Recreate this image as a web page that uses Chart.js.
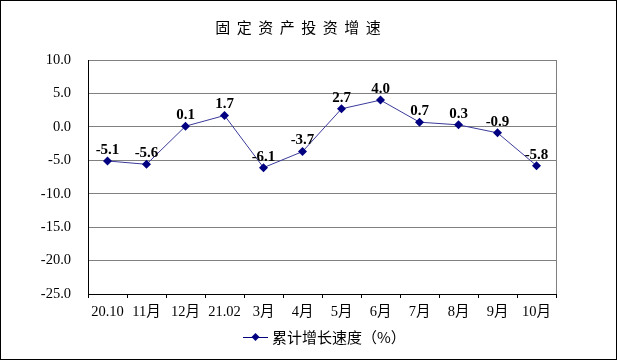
<!DOCTYPE html>
<html>
<head>
<meta charset="utf-8">
<script src="https://cdn.jsdelivr.net/npm/chart.js@4.4.0/dist/chart.umd.min.js"></script>
<style>
  html, body { margin: 0; padding: 0; background: #fff; }
  canvas { display: block; }
</style>
</head>
<body>
<canvas id="chart" width="618" height="361"></canvas>
<script>
// data
const titleText = '固定资产投资增速'
const seriesName = '累计增长速度（%）'
const months = ['20.10', '11月', '12月', '21.02', '3月', '4月', '5月', '6月', '7月', '8月', '9月', '10月']
const growth = [-5.1, -5.6, 0.1, 1.7, -6.1, -3.7, 2.7, 4.0, 0.7, 0.3, -0.9, -5.8]

const SERIF = '"Liberation Serif", "Times New Roman", "Noto Sans CJK SC", serif'
const CJK = '"Noto Sans CJK SC", sans-serif'
const lineColor = '#3a3a9a'
const markColor = '#000080'

// frame, title, value labels and legend
const decorations = {
  id: 'decorations',
  afterDraw(chart) {
    const ctx = chart.ctx
    ctx.save()

    // outer border
    ctx.strokeStyle = '#000'
    ctx.lineWidth = 1
    ctx.strokeRect(0.5, 0.5, 616, 359)

    // title with wide letter spacing
    ctx.fillStyle = '#000'
    ctx.font = '15px ' + CJK
    ctx.textAlign = 'center'
    ctx.textBaseline = 'middle'
    const chars = [...titleText]
    const step = 21.5
    const x0 = 298 - step * (chars.length - 1) / 2
    chars.forEach((c, i) => ctx.fillText(c, x0 + i * step, 27))

    // value labels above points
    const meta = chart.getDatasetMeta(0)
    ctx.font = 'bold 15px ' + SERIF
    ctx.textBaseline = 'middle'
    meta.data.forEach((pt, i) => {
      ctx.fillText(growth[i].toFixed(1), pt.x, pt.y - 11)
    })

    // legend: line + diamond + text
    const ly = 337
    ctx.strokeStyle = markColor
    ctx.beginPath()
    ctx.moveTo(243, ly + 0.5)
    ctx.lineTo(268, ly + 0.5)
    ctx.stroke()
    ctx.fillStyle = markColor
    ctx.beginPath()
    ctx.moveTo(255.5, ly - 4)
    ctx.lineTo(259.5, ly)
    ctx.lineTo(255.5, ly + 4)
    ctx.lineTo(251.5, ly)
    ctx.closePath()
    ctx.fill()
    ctx.fillStyle = '#000'
    ctx.font = '15px ' + CJK
    ctx.textAlign = 'left'
    ctx.fillText(seriesName, 272, ly)

    // right edge of plot area
    const a = chart.chartArea
    ctx.strokeStyle = '#808080'
    ctx.beginPath()
    ctx.moveTo(Math.round(a.right) + 0.5, a.top)
    ctx.lineTo(Math.round(a.right) + 0.5, a.bottom)
    ctx.stroke()

    ctx.restore()
  },
}

new Chart(document.getElementById('chart'), {
  type: 'line',
  data: {
    labels: months,
    datasets: [
      {
        label: seriesName,
        data: growth,
        borderColor: lineColor,
        borderWidth: 1,
        pointStyle: 'rectRot',
        pointRadius: 4.5,
        pointBackgroundColor: markColor,
        pointBorderColor: markColor,
        pointBorderWidth: 0,
        tension: 0,
      },
    ],
  },
  options: {
    responsive: false,
    animation: false,
    layout: { padding: { left: 0, right: 62, top: 60, bottom: 0 } },
    plugins: {
      legend: { display: false },
      tooltip: { enabled: false },
    },
    scales: {
      x: {
        offset: true,
        afterFit(scale) { scale.height = 67 },
        grid: {
          offset: true,
          drawOnChartArea: false,
          drawTicks: true,
          tickLength: 4,
          color: '#000',
        },
        border: { color: '#000' },
        ticks: {
          color: '#000',
          padding: 5,
          maxRotation: 0,
          autoSkip: false,
          font: { family: SERIF, size: 14.5 },
        },
      },
      y: {
        min: -25,
        max: 10,
        afterFit(scale) { scale.width = 88 },
        grid: { color: '#808080', drawTicks: false },
        border: { color: '#000' },
        ticks: {
          stepSize: 5,
          padding: 17,
          color: '#000',
          font: { family: SERIF, size: 14.5 },
          callback: (v) => Number(v).toFixed(1),
        },
      },
    },
  },
  plugins: [decorations],
})
</script>
</body>
</html>
